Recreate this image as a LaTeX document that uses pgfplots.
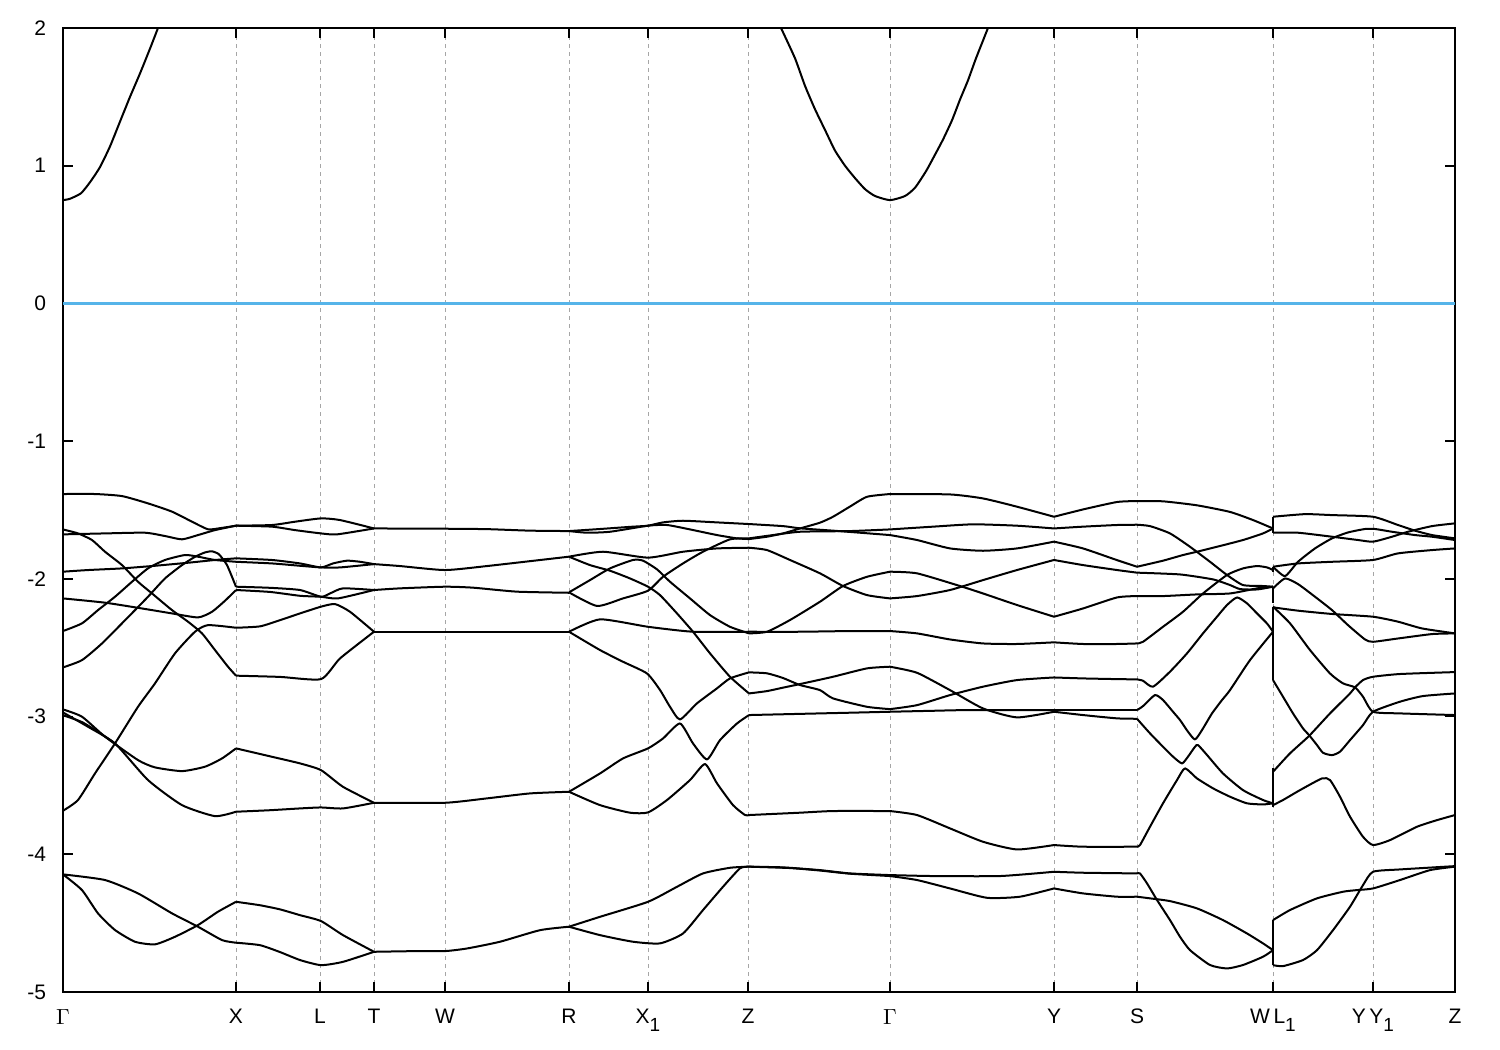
\documentclass[border=0pt]{standalone}
\usepackage{fontspec}
\setmainfont{Liberation Sans}
\usepackage{pgfplots}
\pgfplotsset{compat=1.18}
\definecolor{zeroblue}{RGB}{86,180,233}
\newcommand{\sub}[1]{\raisebox{-0.4em}{\fontsize{9.5}{10}\selectfont #1}}
\begin{document}
\begin{tikzpicture}
\begin{axis}[name=ax, scale only axis, width=696pt, height=482pt,
 xmin=63, xmax=1455, ymin=-5, ymax=2,
 xtick={63,236,320,374,445,569,648,748,890,1054,1137,1273,1373,1455},
 xticklabels={$\Gamma$,X,L,T,W,R,X\sub{1},Z,$\Gamma$,Y,S,W\,L\sub{1},Y\,Y\sub{1},Z},
 ytick={-5,-4,-3,-2,-1,0,1,2}, yticklabels={-5,-4,-3,-2,-1,0,1,2},
 xmajorgrids, grid style={gray!70, dash pattern=on 2pt off 2pt, line width=0.4pt},
 tick align=inside, major tick length=5pt, tick style={black, line width=0.8pt},
 axis line style={line width=1pt},
 font=\fontsize{10.5}{12}\selectfont,
 xticklabel style={yshift=-5pt},
 yticklabel style={xshift=-5pt},
 band/.style={black, line width=1pt, line join=round, smooth, tension=0.35},
 jump/.style={black, line width=1pt}]

\addplot[zeroblue, line width=1.2pt] coordinates {(63,0)(1455,0)};

% conduction band
\addplot[band] coordinates {(63,0.75)(70,0.76)(81,0.80)(90,0.88)(100,0.99)(110,1.14)(120,1.32)(130,1.50)(140,1.67)(150,1.85)(158,2.0)};
\addplot[band] coordinates {(781,2.0)(795,1.78)(805,1.58)(815,1.41)(825,1.26)(835,1.11)(845,1.00)(855,0.91)(865,0.83)(875,0.78)(890,0.75)(905,0.78)(915,0.84)(926,0.96)(935,1.08)(943,1.19)(952,1.33)(960,1.48)(968,1.62)(976,1.78)(988,2.0)};

% Gamma - X
\addplot[band] coordinates {(63,-1.384)(95,-1.384)(122,-1.399)(148,-1.452)(172,-1.512)(192,-1.585)(208,-1.640)(220,-1.632)(236,-1.614)};
\addplot[band] coordinates {(63,-1.677)(105,-1.670)(145,-1.665)(165,-1.689)(182,-1.713)(198,-1.682)(215,-1.646)(236,-1.614)};
\addplot[band] coordinates {(63,-1.641)(78,-1.670)(92,-1.718)(105,-1.803)(122,-1.900)(138,-2.021)(152,-2.106)(172,-2.227)(188,-2.311)(202,-2.396)(215,-2.517)(228,-2.638)(236,-2.703)};
\addplot[band] coordinates {(63,-1.948)(88,-1.936)(122,-1.924)(155,-1.905)(188,-1.883)(215,-1.863)(236,-1.851)};
\addplot[band] coordinates {(63,-2.142)(105,-2.173)(142,-2.215)(172,-2.251)(198,-2.280)(212,-2.239)(225,-2.159)(236,-2.081)};
\addplot[band] coordinates {(63,-2.379)(82,-2.323)(98,-2.227)(115,-2.130)(132,-2.021)(148,-1.924)(165,-1.863)(185,-1.827)(198,-1.839)(215,-1.863)(236,-1.876)};
\addplot[band] coordinates {(63,-2.643)(82,-2.590)(102,-2.469)(122,-2.323)(135,-2.227)(148,-2.130)(165,-1.997)(182,-1.900)(195,-1.840)(205,-1.808)(212,-1.800)(219,-1.822)(227,-1.900)(236,-2.057)};
\addplot[band] coordinates {(63,-3.684)(78,-3.606)(95,-3.413)(115,-3.195)(138,-2.929)(155,-2.759)(175,-2.541)(195,-2.384)(208,-2.336)(236,-2.355)};
\addplot[band] coordinates {(63,-2.948)(82,-3.001)(105,-3.146)(138,-3.316)(155,-3.369)(182,-3.396)(205,-3.364)(222,-3.304)(236,-3.231)};
\addplot[band] coordinates {(63,-2.970)(88,-3.074)(115,-3.195)(148,-3.461)(182,-3.643)(215,-3.723)(236,-3.691)};
\addplot[band] coordinates {(63,-2.990)(82,-3.040)(100,-3.120)(115,-3.195)};
\addplot[band] coordinates {(63,-4.146)(82,-4.260)(98,-4.429)(115,-4.550)(135,-4.635)(155,-4.654)(175,-4.599)(198,-4.514)(218,-4.417)(236,-4.345)};
\addplot[band] coordinates {(63,-4.146)(105,-4.187)(138,-4.284)(172,-4.429)(198,-4.526)(222,-4.623)(236,-4.642)};

% X - L - T
\addplot[band] coordinates {(236,-1.614)(272,-1.609)(295,-1.585)(321,-1.561)(340,-1.573)(374,-1.634)};
\addplot[band] coordinates {(236,-1.614)(272,-1.621)(295,-1.646)(321,-1.670)(337,-1.677)(374,-1.634)};
\addplot[band] coordinates {(236,-1.851)(272,-1.863)(300,-1.888)(321,-1.917)(333,-1.888)(347,-1.868)(360,-1.876)(374,-1.893)};
\addplot[band] coordinates {(236,-1.876)(272,-1.888)(300,-1.905)(321,-1.917)(340,-1.917)(374,-1.893)};
\addplot[band] coordinates {(236,-2.057)(270,-2.065)(300,-2.081)(321,-2.130)(330,-2.106)(343,-2.069)(374,-2.081)};
\addplot[band] coordinates {(236,-2.081)(270,-2.095)(300,-2.123)(321,-2.130)(338,-2.142)(374,-2.081)};
\addplot[band] coordinates {(236,-2.355)(260,-2.345)(280,-2.300)(300,-2.251)(321,-2.202)(335,-2.183)(350,-2.239)(374,-2.384)};
\addplot[band] coordinates {(236,-2.703)(280,-2.712)(321,-2.728)(340,-2.578)(374,-2.384)};
\addplot[band] coordinates {(236,-3.231)(272,-3.292)(300,-3.340)(321,-3.389)(343,-3.510)(374,-3.626)};
\addplot[band] coordinates {(236,-3.691)(270,-3.680)(300,-3.667)(321,-3.660)(343,-3.667)(374,-3.626)};
\addplot[band] coordinates {(236,-4.345)(260,-4.370)(280,-4.400)(300,-4.442)(321,-4.485)(343,-4.587)(374,-4.708)};
\addplot[band] coordinates {(236,-4.642)(260,-4.660)(280,-4.710)(300,-4.768)(321,-4.805)(343,-4.781)(374,-4.708)};

% T - W - R
\addplot[band] coordinates {(374,-1.634)(445,-1.636)(487,-1.639)(530,-1.650)(569,-1.653)};
\addplot[band] coordinates {(374,-1.893)(400,-1.907)(445,-1.936)(487,-1.907)(569,-1.839)};
\addplot[band] coordinates {(374,-2.081)(400,-2.069)(445,-2.057)(473,-2.064)(517,-2.093)(569,-2.101)};
\addplot[band] coordinates {(374,-2.384)(569,-2.384)};
\addplot[band] coordinates {(374,-3.626)(445,-3.626)(487,-3.594)(530,-3.558)(569,-3.546)};
\addplot[band] coordinates {(374,-4.708)(417,-4.703)(445,-4.703)(467,-4.684)(500,-4.635)(540,-4.551)(569,-4.526)};

% R - X1 - Z
\addplot[band] coordinates {(569,-1.653)(600,-1.638)(633,-1.621)(648,-1.614)(663,-1.590)(683,-1.578)(717,-1.590)(749,-1.602)};
\addplot[band] coordinates {(569,-1.653)(587,-1.665)(610,-1.658)(648,-1.614)(667,-1.609)(690,-1.641)(717,-1.682)(737,-1.706)(749,-1.711)};
\addplot[band] coordinates {(569,-1.839)(603,-1.803)(648,-1.846)(683,-1.803)(717,-1.779)(749,-1.774)};
\addplot[band] coordinates {(569,-1.839)(590,-1.900)(610,-1.941)(630,-1.997)(648,-2.057)(660,-2.118)(677,-2.251)(693,-2.384)(710,-2.541)(730,-2.711)(749,-2.832)};
\addplot[band] coordinates {(569,-2.098)(590,-2.009)(610,-1.924)(633,-1.863)(643,-1.868)(657,-1.931)(670,-2.021)(690,-2.142)(710,-2.263)(730,-2.348)(749,-2.396)};
\addplot[band] coordinates {(569,-2.098)(597,-2.197)(623,-2.142)(648,-2.086)(663,-1.985)(683,-1.888)(703,-1.803)(730,-1.713)(749,-1.706)};
\addplot[band] coordinates {(569,-2.384)(600,-2.294)(648,-2.348)(693,-2.384)(749,-2.384)};
\addplot[band] coordinates {(569,-2.384)(600,-2.517)(623,-2.602)(647,-2.687)(660,-2.807)(670,-2.929)(680,-3.021)(697,-2.904)(717,-2.795)(730,-2.723)(749,-2.679)};
\addplot[band] coordinates {(569,-3.546)(600,-3.413)(623,-3.304)(648,-3.231)(663,-3.159)(680,-3.050)(693,-3.195)(707,-3.311)(720,-3.171)(737,-3.050)(749,-2.989)};
\addplot[band] coordinates {(569,-3.546)(600,-3.643)(630,-3.698)(648,-3.696)(667,-3.606)(690,-3.461)(705,-3.345)(717,-3.485)(733,-3.643)(745,-3.715)(749,-3.715)};
\addplot[band] coordinates {(569,-4.526)(600,-4.454)(648,-4.345)(677,-4.236)(703,-4.139)(730,-4.098)(749,-4.090)};
\addplot[band] coordinates {(569,-4.526)(600,-4.587)(633,-4.635)(660,-4.647)(683,-4.575)(703,-4.405)(723,-4.236)(740,-4.102)(749,-4.090)};

% Z - Gamma
\addplot[band] coordinates {(749,-1.711)(767,-1.694)(783,-1.670)(800,-1.634)(820,-1.592)(833,-1.549)(850,-1.475)(867,-1.404)(890,-1.384)};
\addplot[band] coordinates {(749,-1.602)(783,-1.617)(800,-1.633)(833,-1.650)(860,-1.665)(890,-1.682)};
\addplot[band] coordinates {(749,-1.706)(770,-1.685)(800,-1.658)(850,-1.653)(890,-1.641)};
\addplot[band] coordinates {(749,-1.774)(767,-1.791)(790,-1.863)(820,-1.960)(843,-2.052)(867,-2.118)(890,-2.142)};
\addplot[band] coordinates {(749,-2.396)(767,-2.384)(790,-2.299)(820,-2.166)(843,-2.052)(867,-1.985)(890,-1.948)};
\addplot[band] coordinates {(749,-2.832)(767,-2.815)(783,-2.790)(800,-2.764)(833,-2.711)(867,-2.650)(890,-2.638)};
\addplot[band] coordinates {(749,-2.679)(767,-2.686)(783,-2.720)(800,-2.771)(820,-2.808)(833,-2.868)(867,-2.929)(890,-2.946)};
\addplot[band] coordinates {(749,-2.384)(800,-2.384)(850,-2.379)(890,-2.379)};
\addplot[band] coordinates {(749,-2.989)(820,-2.977)(850,-2.972)(890,-2.965)};
\addplot[band] coordinates {(749,-3.715)(800,-3.698)(833,-3.686)(890,-3.686)};
\addplot[band] coordinates {(749,-4.090)(783,-4.095)(820,-4.115)(850,-4.139)(890,-4.151)};
\addplot[band] coordinates {(749,-4.090)(790,-4.100)(820,-4.118)(850,-4.141)(890,-4.158)};

% Gamma - Y
\addplot[band] coordinates {(890,-1.384)(950,-1.387)(983,-1.416)(1017,-1.476)(1054,-1.549)};
\addplot[band] coordinates {(890,-1.641)(933,-1.621)(973,-1.604)(1017,-1.614)(1054,-1.634)};
\addplot[band] coordinates {(890,-1.682)(917,-1.718)(950,-1.779)(983,-1.796)(1017,-1.779)(1054,-1.730)};
\addplot[band] coordinates {(890,-2.142)(917,-2.125)(950,-2.081)(983,-2.009)(1017,-1.936)(1054,-1.863)};
\addplot[band] coordinates {(890,-1.948)(917,-1.960)(960,-2.052)(983,-2.106)(1017,-2.190)(1054,-2.275)};
\addplot[band] coordinates {(890,-2.379)(917,-2.396)(950,-2.440)(983,-2.469)(1017,-2.473)(1054,-2.461)};
\addplot[band] coordinates {(890,-2.638)(917,-2.682)(950,-2.808)(983,-2.941)(1017,-3.006)(1054,-2.965)};
\addplot[band] coordinates {(890,-2.946)(917,-2.917)(950,-2.844)(983,-2.783)(1017,-2.735)(1054,-2.716)};
\addplot[band] coordinates {(890,-2.965)(933,-2.958)(967,-2.953)(1054,-2.953)};
\addplot[band] coordinates {(890,-3.686)(917,-3.715)(950,-3.812)(983,-3.909)(1017,-3.965)(1054,-3.933)};
\addplot[band] coordinates {(890,-4.151)(933,-4.158)(1000,-4.158)(1054,-4.127)};
\addplot[band] coordinates {(890,-4.158)(917,-4.187)(950,-4.248)(987,-4.316)(1020,-4.308)(1054,-4.248)};

% Y - S
\addplot[band] coordinates {(1054,-1.549)(1083,-1.496)(1117,-1.442)(1137,-1.435)};
\addplot[band] coordinates {(1054,-1.634)(1083,-1.621)(1117,-1.609)(1137,-1.607)};
\addplot[band] coordinates {(1054,-1.730)(1083,-1.779)(1117,-1.864)(1137,-1.912)};
\addplot[band] coordinates {(1054,-1.863)(1083,-1.900)(1117,-1.936)(1137,-1.955)};
\addplot[band] coordinates {(1054,-2.275)(1083,-2.215)(1117,-2.135)(1137,-2.125)};
\addplot[band] coordinates {(1054,-2.461)(1083,-2.473)(1117,-2.473)(1137,-2.469)};
\addplot[band] coordinates {(1054,-2.716)(1083,-2.723)(1117,-2.728)(1137,-2.730)};
\addplot[band] coordinates {(1054,-2.953)(1137,-2.953)};
\addplot[band] coordinates {(1054,-2.965)(1083,-2.989)(1117,-3.013)(1137,-3.016)};
\addplot[band] coordinates {(1054,-3.933)(1083,-3.945)(1137,-3.945)};
\addplot[band] coordinates {(1054,-4.127)(1083,-4.134)(1137,-4.139)};
\addplot[band] coordinates {(1054,-4.248)(1083,-4.284)(1117,-4.308)(1137,-4.308)};

% S - W
\addplot[band] coordinates {(1137,-1.435)(1163,-1.437)(1197,-1.466)(1230,-1.514)(1253,-1.573)(1273,-1.634)};
\addplot[band] coordinates {(1137,-1.607)(1150,-1.617)(1170,-1.670)(1190,-1.767)(1210,-1.876)(1227,-1.972)(1243,-2.045)(1263,-2.052)(1273,-2.057)};
\addplot[band] coordinates {(1137,-1.912)(1163,-1.868)(1183,-1.827)(1197,-1.803)(1217,-1.767)(1243,-1.718)(1263,-1.670)(1273,-1.634)};
\addplot[band] coordinates {(1137,-1.955)(1180,-1.968)(1213,-2.004)(1230,-2.045)(1240,-2.074)(1257,-2.077)(1273,-2.057)};
\addplot[band] coordinates {(1137,-2.125)(1163,-2.125)(1197,-2.113)(1230,-2.106)(1257,-2.069)(1273,-2.057)};
\addplot[band] coordinates {(1137,-2.469)(1143,-2.457)(1163,-2.348)(1183,-2.239)(1203,-2.106)(1227,-1.972)(1243,-1.924)(1257,-1.907)(1267,-1.917)(1273,-1.936)};
\addplot[band] coordinates {(1137,-2.730)(1143,-2.740)(1153,-2.783)(1170,-2.674)(1187,-2.541)(1203,-2.396)(1217,-2.275)(1227,-2.190)(1237,-2.135)(1247,-2.178)(1257,-2.251)(1267,-2.324)(1273,-2.384)};
\addplot[band] coordinates {(1137,-2.953)(1143,-2.924)(1155,-2.844)(1163,-2.880)(1173,-2.965)(1180,-3.025)(1188,-3.110)(1195,-3.166)(1202,-3.098)(1212,-2.977)(1222,-2.880)(1230,-2.808)(1250,-2.590)(1273,-2.384)};
\addplot[band] coordinates {(1137,-3.016)(1150,-3.122)(1163,-3.219)(1173,-3.291)(1182,-3.340)(1188,-3.291)(1195,-3.219)(1198,-3.207)(1207,-3.279)(1223,-3.413)(1243,-3.534)(1263,-3.606)(1273,-3.630)};
\addplot[band] coordinates {(1137,-3.945)(1140,-3.933)(1150,-3.800)(1163,-3.630)(1177,-3.461)(1185,-3.376)(1197,-3.449)(1213,-3.521)(1230,-3.582)(1247,-3.630)(1263,-3.638)(1273,-3.630)};
\addplot[band] coordinates {(1137,-4.139)(1140,-4.139)(1147,-4.211)(1157,-4.332)(1170,-4.478)(1180,-4.599)(1190,-4.696)(1210,-4.804)(1227,-4.829)(1243,-4.804)(1263,-4.744)(1273,-4.696)};
\addplot[band] coordinates {(1137,-4.308)(1150,-4.320)(1170,-4.340)(1197,-4.393)(1223,-4.478)(1247,-4.575)(1263,-4.647)(1273,-4.696)};

% jumps at W | L1
\addplot[jump] coordinates {(1273,-1.549)(1273,-1.670)};
\addplot[jump] coordinates {(1273,-1.912)(1273,-1.948)};
\addplot[jump] coordinates {(1273,-2.057)(1273,-2.178)};
\addplot[jump] coordinates {(1273,-2.202)(1273,-2.735)};
\addplot[jump] coordinates {(1273,-3.376)(1273,-3.655)};
\addplot[jump] coordinates {(1273,-4.478)(1273,-4.804)};

% L1 - Y1 - Z
\addplot[band] coordinates {(1273,-1.549)(1305,-1.530)(1332,-1.537)(1373,-1.549)(1398,-1.609)(1415,-1.650)(1432,-1.682)(1455,-1.706)};
\addplot[band] coordinates {(1273,-1.665)(1298,-1.665)(1332,-1.694)(1358,-1.718)(1373,-1.730)(1392,-1.694)(1408,-1.658)(1432,-1.617)(1455,-1.597)};
\addplot[band] coordinates {(1273,-1.912)(1285,-1.980)(1298,-1.876)(1315,-1.779)(1332,-1.706)(1348,-1.663)(1365,-1.638)(1375,-1.638)(1392,-1.658)(1415,-1.682)(1432,-1.694)(1455,-1.718)};
\addplot[band] coordinates {(1273,-1.912)(1298,-1.888)(1332,-1.876)(1373,-1.863)(1398,-1.815)(1432,-1.791)(1455,-1.779)};
\addplot[band] coordinates {(1273,-2.069)(1285,-1.997)(1298,-2.038)(1315,-2.130)(1332,-2.227)(1348,-2.336)(1365,-2.440)(1373,-2.457)(1398,-2.433)(1432,-2.401)(1455,-2.396)};
\addplot[band] coordinates {(1273,-2.207)(1298,-2.231)(1332,-2.255)(1373,-2.275)(1398,-2.311)(1422,-2.360)(1455,-2.396)};
\addplot[band] coordinates {(1273,-2.202)(1290,-2.323)(1310,-2.517)(1330,-2.687)(1343,-2.759)(1355,-2.788)(1363,-2.856)(1373,-2.965)(1400,-2.977)(1455,-2.989)};
\addplot[band] coordinates {(1273,-2.735)(1283,-2.856)(1293,-2.977)(1303,-3.086)(1309,-3.134)(1317,-3.207)(1323,-3.263)(1332,-3.280)(1340,-3.255)(1350,-3.171)(1363,-3.062)(1373,-2.965)(1400,-2.892)(1423,-2.851)(1455,-2.832)};
\addplot[band] coordinates {(1273,-3.401)(1290,-3.267)(1309,-3.141)(1330,-2.977)(1350,-2.832)(1355,-2.788)(1363,-2.735)(1373,-2.711)(1400,-2.691)(1455,-2.677)};
\addplot[band] coordinates {(1273,-3.643)(1283,-3.606)(1300,-3.534)(1322,-3.449)(1330,-3.461)(1340,-3.582)(1350,-3.727)(1363,-3.873)(1373,-3.933)(1390,-3.897)(1417,-3.800)(1437,-3.752)(1455,-3.715)};
\addplot[band] coordinates {(1273,-4.478)(1290,-4.405)(1317,-4.320)(1343,-4.272)(1357,-4.260)(1373,-4.248)(1400,-4.187)(1430,-4.115)(1455,-4.090)};
\addplot[band] coordinates {(1273,-4.805)(1283,-4.812)(1303,-4.768)(1317,-4.696)(1333,-4.551)(1350,-4.381)(1363,-4.224)(1373,-4.127)(1400,-4.110)(1455,-4.086)};
\end{axis}
\pgfresetboundingbox
\useasboundingbox ([xshift=-31.5pt,yshift=-29pt]ax.south west) rectangle ([xshift=22.5pt,yshift=14pt]ax.north east);
\end{tikzpicture}
\end{document}
